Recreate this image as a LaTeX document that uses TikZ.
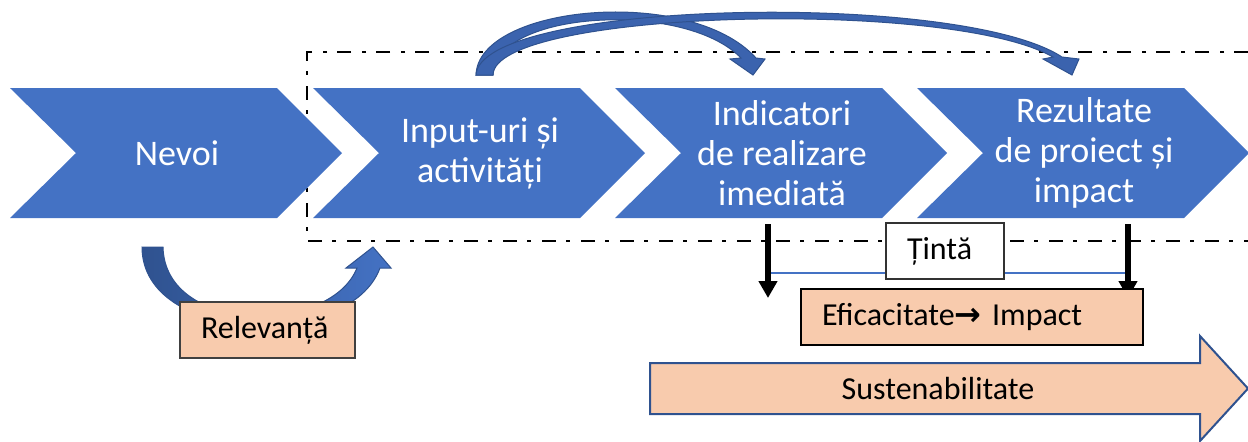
\documentclass[tikz,border=0pt]{standalone}
\usepackage{fontspec}
\setmainfont{Carlito}
\newfontfamily\symfont{DejaVu Sans}
\usepackage{xcolor}
\usepackage{tikz}
\usetikzlibrary{arrows.meta,positioning}

\definecolor{chevblue}{HTML}{4472C4}
\definecolor{ribblue}{HTML}{3B63AE}
\definecolor{ribline}{HTML}{2F528F}
\definecolor{peach}{HTML}{F8CBAD}

\tikzset{
  chevtext/.style={text=white,align=center,font=\fontsize{18}{20}\selectfont},
  lbl/.style={draw=#1,line width=0.7pt,minimum height=28pt,inner xsep=10.5pt,
    inner ysep=0pt,align=left,font=\fontsize{16}{19}\selectfont},
  ribbon/.style={fill=ribblue,draw=ribline,line width=0.5pt},
  downarrow/.style={line width=2.8pt,-{Triangle[width=9pt,length=8.5pt]}},
  frame/.style={line width=1pt,dash pattern=on 7pt off 5pt on 2pt off 5.5pt}
}

\begin{document}
\begin{tikzpicture}[x=0.5pt,y=-0.5pt]
  \useasboundingbox (0,0) rectangle (1248,441);
  \draw[frame] (1248,52) -- (307,52) -- (307,241) -- (1248,241);

  \foreach \l in {10,313,615,917}
    \fill[chevblue] (\l,88) -- ++(267,0) -- ++(65,65) -- ++(-65,65)
      -- ++(-267,0) -- ++(66,-65) -- cycle;

  \node[chevtext] (nevoi) at (177,153) {Nevoi};
  \node[chevtext] (input) at (480,153) {Input-uri și\\activități};
  \node[chevtext] (indic) at (782,153) {Indicatori\\de realizare\\imediată};
  \node[chevtext] (rezult) at (1084,153) {Rezultate\\de proiect și\\impact};

  \draw[ribbon] (476,75) .. controls (478,5) and (690,-15) .. (756,58)
    -- (765,59) -- (753,75) -- (730,59) -- (741,58)
    .. controls (685,0) and (495,10) .. (493,75) -- cycle;
  \draw[ribbon] (476,75) .. controls (480,0) and (960,-10) .. (1062,57)
    -- (1079,59) -- (1072,75) -- (1043,59) -- (1053,57)
    .. controls (950,-2) and (494,10) .. (493,75) -- cycle;

  \draw[draw=ribline,line width=0.5pt,left color=ribline,right color=chevblue]
    (142,247) .. controls (142,345) and (350,350) .. (380,268)
    -- (391,268) -- (373,247) -- (346,268) -- (357,268)
    .. controls (330,335) and (165,335) .. (163,247) -- cycle;
  \node[lbl=black!75,fill=peach,text width=66.5pt] (relev) at (267.5,330) {Relevanță};

  \coordinate (indicbase) at (768,224);
  \coordinate (indicend) at (768,298);
  \coordinate (rezbase) at (1128,224);
  \coordinate (rezend) at (1128,298);
  \draw[chevblue,line width=0.8pt] (769,273) -- (1125,273);
  \draw[downarrow] (indicbase) -- (indicend);
  \draw[downarrow] (rezbase) -- (rezend);
  \node[lbl=black!80,fill=white,text width=38pt] (tinta) at (945,251) {Țintă};
  \node[lbl=black,fill=peach,text width=150pt] (efic) at (972,317)
    {Eficacitate{\symfont\bfseries →} Impact};

  \draw[ribline,line width=1pt,fill=peach] (650,363) -- (1200,363) -- (1200,336)
    -- (1248,388.5) -- (1200,441) -- (1200,414) -- (650,414) -- cycle;
  \node[font=\fontsize{16}{19}\selectfont] (sust) at (938,388.5) {Sustenabilitate};
\end{tikzpicture}
\end{document}
